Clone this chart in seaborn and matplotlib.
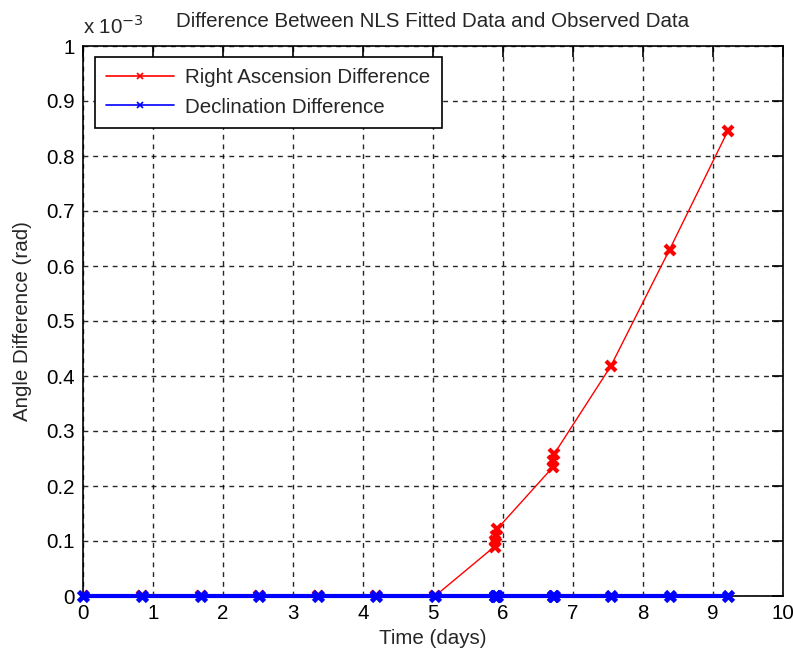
import matplotlib
matplotlib.use("Agg")
import matplotlib.pyplot as plt
import seaborn as sns
import pandas as pd
from matplotlib.ticker import FuncFormatter, MultipleLocator

# Observation epochs (days since first observation)
time_days = [0.0, 0.84, 1.68, 2.51, 3.35, 4.19, 5.03,
             5.88, 5.89, 5.90, 5.91, 6.71, 6.72, 6.73,
             7.54, 8.38, 9.21]
# Residuals between NLS fit and observations (rad)
ra_diff = [0.0, 0.0, 0.0, 0.0, 0.0, 0.0, 0.0,
           0.090e-3, 0.100e-3, 0.110e-3, 0.121e-3, 0.234e-3, 0.246e-3, 0.258e-3,
           0.418e-3, 0.630e-3, 0.845e-3]
dec_diff = [0.0] * len(time_days)

series_names = ["Right Ascension Difference", "Declination Difference"]

df = pd.DataFrame({"t": time_days, "ra": ra_diff, "dec": dec_diff})

sns.set_style("white")
plt.rcParams["font.family"] = ["Liberation Sans", "DejaVu Sans"]
fs = 14.8

fig = plt.figure(figsize=(7.93, 6.56), dpi=100)
ax = fig.add_axes([83 / 793, 1 - 596 / 656, 700 / 793, 550 / 656])

sns.lineplot(data=df, x="t", y="ra", ax=ax, color="#ff0000", lw=1.0,
             marker="x", markersize=7, markeredgewidth=3.0, mec="#ff0000",
             sort=False, estimator=None, label=series_names[0], zorder=3)
sns.lineplot(data=df, x="t", y="dec", ax=ax, color="#0000ff", lw=3.0,
             marker="x", markersize=7.5, markeredgewidth=3.4, mec="#0000ff",
             sort=False, estimator=None, label=series_names[1], zorder=4,
             clip_on=False)

ax.set_xlim(0, 10)
ax.set_ylim(0, 1e-3)
ax.xaxis.set_major_locator(MultipleLocator(1))
ax.yaxis.set_major_locator(MultipleLocator(0.1e-3))
ax.yaxis.set_major_formatter(FuncFormatter(lambda v, p: f"{v * 1e3:.1f}".rstrip("0").rstrip(".")))

ax.grid(True, color="black", linestyle=(0, (3.5, 3.5)), linewidth=1.0, alpha=0.85)
ax.set_axisbelow(True)
for s in ax.spines.values():
    s.set_visible(True)
    s.set_color("black")
    s.set_linewidth(1.2)

ax.tick_params(direction="in", length=8, width=1.2, top=True, right=True,
               labelsize=fs, colors="black", pad=6)

ax.set_xlabel("Time (days)", fontsize=fs, labelpad=4)
ax.set_ylabel("Angle Difference (rad)", fontsize=fs, labelpad=10)
ax.set_title("Difference Between NLS Fitted Data and Observed Data", fontsize=fs, pad=14)
ax.text(0.0, 1.015, r"x 10$^{-3}$", transform=ax.transAxes, fontsize=fs,
        ha="left", va="bottom")

leg = ax.legend(loc="upper left", bbox_to_anchor=(12 / 700, 1 - 11 / 550),
                borderaxespad=0, fontsize=fs,
                frameon=True, fancybox=False, edgecolor="black", framealpha=1,
                handlelength=3.3, borderpad=0.55, labelspacing=0.5,
                markerscale=0.6, handletextpad=0.55)
leg.get_frame().set_linewidth(1.2)
for h in leg.get_lines():
    h.set_linewidth(1.2)
    h.set_markeredgewidth(1.2)

fig.savefig("out.png", dpi=100)
